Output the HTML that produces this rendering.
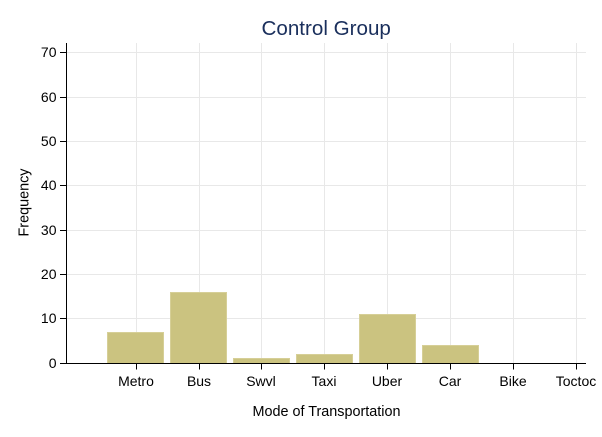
<!DOCTYPE html>
<html>
<head>
<meta charset="utf-8">
<style>
html,body{margin:0;padding:0;background:#fff;}
svg{display:block;font-family:"Liberation Sans",Arial,sans-serif;}
</style>
</head>
<body>
<svg id="chart" width="602" height="437" viewBox="0 0 602 437" xmlns="http://www.w3.org/2000/svg">
<text x="326.2" y="35" font-size="20.6" fill="#1a2f5c" text-anchor="middle">Control Group</text>
<text x="326.5" y="416" font-size="14.4" fill="#000" text-anchor="middle">Mode of Transportation</text>
<text transform="translate(28.5,202.5) rotate(-90)" font-size="14.4" fill="#000" text-anchor="middle">Frequency</text>
<g id="grid"></g>
<g id="bars"></g>
<g id="axes"></g>
</svg>
<script>
const categories = ["Metro", "Bus", "Swvl", "Taxi", "Uber", "Car", "Bike", "Toctoc"];
const frequencies = [7, 16, 1, 2, 11, 4, 0, 0];
const yTicks = [0, 10, 20, 30, 40, 50, 60, 70];

const NS = "http://www.w3.org/2000/svg";
const left = 66.5, right = 586, top_ = 43, bottom = 362.8;
const firstCenter = 136.2, step = 62.86, barWidth = 56;
function xScale(i) { return firstCenter + i * step; }
function yScale(v) { return bottom - v * 4.435; }
function make(parent, tag, attrs) {
  const el = document.createElementNS(NS, tag);
  for (const k in attrs) el.setAttribute(k, attrs[k]);
  parent.appendChild(el);
  return el;
}
const grid = document.getElementById("grid");
const bars = document.getElementById("bars");
const axes = document.getElementById("axes");
const base = Math.round(bottom) + 0.5;

yTicks.forEach(function (t) {
  const row = Math.round(yScale(t));
  const y = row + 0.5;
  if (t !== 0) {
    const g = make(grid, "line", {x1: left, x2: right, y1: y, y2: y, stroke: "#e8e8e8", "stroke-width": 1});
    
    
  }
  const tick = make(axes, "line", {x1: 60, x2: left, y1: y, y2: y, stroke: "#000", "stroke-width": 1});
  
  
  const label = make(axes, "text", {x: 56.5, y: row + 5, "font-size": 14, "text-anchor": "end", fill: "#000"});
  label.textContent = t;
  
  
});

categories.forEach(function (c, i) {
  const x = Math.floor(xScale(i)) + 0.5;
  const g = make(grid, "line", {x1: x, x2: x, y1: top_, y2: base, stroke: "#e8e8e8", "stroke-width": 1});
  
  
  const v = frequencies[i];
  if (v > 0) {
    const center = Math.floor(xScale(i) - 0.5) + 0.5;
    const topY = Math.round(yScale(v)) + 0.5;
    const bar = make(bars, "rect", {
      x: center - barWidth / 2, y: topY, width: barWidth, height: base - topY,
      fill: "#cbc380", stroke: "#d6cf97", "stroke-width": 1
    });
    
    
  }
  const tick = make(axes, "line", {x1: x, x2: x, y1: base, y2: base + 6, stroke: "#000", "stroke-width": 1});
  
  
  const label = make(axes, "text", {x: x - 0.5, y: 386, "font-size": 14, "text-anchor": "middle", fill: "#000"});
  label.textContent = c;
  
  
});

const yAxis = make(axes, "line", {x1: left, x2: left, y1: top_, y2: base + 0.5, stroke: "#000", "stroke-width": 1});


const xAxis = make(axes, "line", {x1: 66, x2: right, y1: base, y2: base, stroke: "#000", "stroke-width": 1});


</script>
</body>
</html>
